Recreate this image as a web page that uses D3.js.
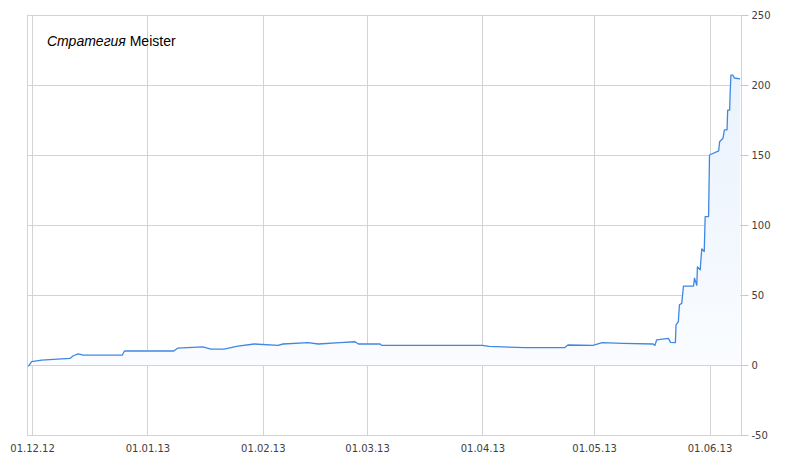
<!DOCTYPE html>
<html>
<head>
<meta charset="utf-8">
<script src="https://cdn.jsdelivr.net/npm/d3@7"></script>
<style>
  body { margin: 0; background: #fff; }
  svg { display: block; }
</style>
</head>
<body>
<svg id="chart"></svg>
<script>
// Equity curve of the strategy
const dates = [
  '2012-11-30T00:00', '2012-11-30T21:00', '2012-12-03T14:00', '2012-12-06T16:00',
  '2012-12-11T06:00', '2012-12-12T02:00', '2012-12-13T10:00', '2012-12-14T18:00',
  '2012-12-25T05:00', '2012-12-25T20:00', '2013-01-08T02:00', '2013-01-09T02:00',
  '2013-01-15T20:00', '2013-01-18T02:00', '2013-01-21T14:00', '2013-01-25T07:00',
  '2013-01-29T16:00', '2013-02-05T02:00', '2013-02-06T10:00', '2013-02-13T04:00',
  '2013-02-15T21:00', '2013-02-21T17:00', '2013-02-25T18:00', '2013-02-26T16:00',
  '2013-03-04T12:00', '2013-03-04T23:00', '2013-03-31T23:00', '2013-04-02T19:00',
  '2013-04-12T14:00', '2013-04-23T01:00', '2013-04-23T23:00', '2013-04-30T17:00',
  '2013-05-03T03:00', '2013-05-08T19:00', '2013-05-16T21:00', '2013-05-17T08:00',
  '2013-05-17T19:00', '2013-05-20T23:00', '2013-05-21T13:00', '2013-05-22T20:00',
  '2013-05-23T00:00', '2013-05-23T15:00', '2013-05-23T22:00', '2013-05-24T13:00',
  '2013-05-25T00:00', '2013-05-27T17:00', '2013-05-27T23:00', '2013-05-28T14:00',
  '2013-05-28T18:00', '2013-05-29T12:00', '2013-05-29T22:00', '2013-05-30T14:00',
  '2013-05-30T20:00', '2013-05-31T18:00', '2013-06-01T00:00', '2013-06-03T11:00',
  '2013-06-03T17:00', '2013-06-04T15:00', '2013-06-05T00:00', '2013-06-05T17:00',
  '2013-06-05T21:00', '2013-06-06T10:00', '2013-06-06T13:00', '2013-06-06T18:00',
  '2013-06-07T07:00', '2013-06-07T16:00', '2013-06-09T05:00'
];
const values = [
  -1, 2.4, 3.5, 4,
  4.8, 6.6, 8, 7,
  7, 10, 10, 12,
  13, 11.4, 11.4, 13.5,
  15, 14, 15, 16,
  15, 16, 16.6, 15,
  15, 14, 14, 13.3,
  12.4, 12.4, 14.3, 14,
  16, 15.5, 15, 14,
  17.9, 19, 16.2, 16,
  28.6, 31, 43, 44,
  56.4, 56.4, 62, 57,
  70, 68, 83, 81,
  106, 106, 150, 153,
  159.5, 162, 168, 168,
  182, 182, 194, 207,
  207, 205, 204.3
];
const xTicks = ['2012-12-01', '2013-01-01', '2013-02-01', '2013-03-01', '2013-04-01', '2013-05-01', '2013-06-01'];
const yTicks = [-50, 0, 50, 100, 150, 200, 250];
const xDomain = ['2012-11-29T15:30', '2013-06-09T11:00'];
const yDomain = [-50, 250];

const width = 785;
const height = 466;
const plotLeft = 27;
const plotRight = 741;
const plotTop = 15;
const plotBottom = 435;

const parseTime = d3.timeParse('%Y-%m-%dT%H:%M');
const parseDay = d3.timeParse('%Y-%m-%d');
const data = dates.map((d, i) => ({ date: parseTime(d), value: values[i] }));

const x = d3.scaleTime(xDomain.map(parseTime), [plotLeft, plotRight]);
const y = d3.scaleLinear(yDomain, [plotBottom, plotTop]);

const svg = d3.select('#chart').attr('width', width).attr('height', height);

const defs = svg.append('defs');
const grad = defs.append('linearGradient')
  .attr('id', 'fillGrad')
  .attr('gradientUnits', 'userSpaceOnUse')
  .attr('x1', 0).attr('x2', 0)
  .attr('y1', y(210)).attr('y2', y(0));
grad.append('stop').attr('offset', '0%').attr('stop-color', '#e9f2fd');
grad.append('stop').attr('offset', '100%').attr('stop-color', '#fafcff');

// grid
const grid = svg.append('g').attr('stroke', '#d3d3d3').attr('stroke-width', 1).attr('shape-rendering', 'crispEdges');
grid.selectAll('.h')
  .data(yTicks)
  .join('line')
  .attr('x1', plotLeft).attr('x2', plotRight)
  .attr('y1', d => Math.round(y(d)) + 0.5).attr('y2', d => Math.round(y(d)) + 0.5);
grid.selectAll('.v')
  .data(xTicks.map(parseDay))
  .join('line')
  .attr('x1', d => Math.round(x(d)) + 0.5).attr('x2', d => Math.round(x(d)) + 0.5)
  .attr('y1', plotTop).attr('y2', plotBottom);
grid.append('rect')
  .attr('x', plotLeft + 0.5).attr('y', plotTop + 0.5)
  .attr('width', plotRight - plotLeft).attr('height', plotBottom - plotTop)
  .attr('fill', 'none');

// area + line
const area = d3.area().x(d => x(d.date)).y0(y(0)).y1(d => y(d.value));
svg.append('path')
  .datum(data)
  .attr('fill', 'url(#fillGrad)')
  .attr('d', area);

// redraw zero line over the fill
svg.append('line')
  .attr('x1', plotLeft).attr('x2', plotRight)
  .attr('y1', Math.round(y(0)) + 0.5).attr('y2', Math.round(y(0)) + 0.5)
  .attr('stroke', '#d3d3d3').attr('shape-rendering', 'crispEdges');

const line = d3.line().x(d => x(d.date)).y(d => y(d.value));
svg.append('path')
  .datum(data)
  .attr('fill', 'none')
  .attr('stroke', '#3f88e2')
  .attr('stroke-width', 1.3)
  .attr('stroke-linejoin', 'round')
  .attr('d', line);

// y axis on the right
const yAxis = svg.append('g')
  .attr('transform', `translate(${plotRight + 0.5},0)`)
  .call(d3.axisRight(y).tickValues(yTicks).tickSize(7).tickPadding(3).tickFormat(d => String(d)))
  .style('font-family', '"DejaVu Sans", Verdana, sans-serif')
  .style('font-size', '10px');
yAxis.select('.domain').remove();
yAxis.selectAll('line').attr('stroke', '#c8c8c8');
yAxis.selectAll('text').attr('fill', '#404040');

// x axis labels
const xAxis = svg.append('g')
  .attr('transform', `translate(0,${plotBottom})`)
  .call(d3.axisBottom(x).tickValues(xTicks.map(parseDay)).tickSize(0).tickPadding(10).tickFormat(d3.timeFormat('%d.%m.%y')))
  .style('font-family', '"DejaVu Sans", Verdana, sans-serif')
  .style('font-size', '10px');
xAxis.select('.domain').remove();
xAxis.selectAll('text').attr('fill', '#404040');

// title
const title = svg.append('text')
  .attr('x', 47).attr('y', 46)
  .style('font-family', '"Liberation Sans", Arial, sans-serif')
  .style('font-size', '14px')
  .attr('fill', '#000');
title.append('tspan').style('font-style', 'italic').text('Стратегия');
title.append('tspan').text(' Meister');
</script>
</body>
</html>
